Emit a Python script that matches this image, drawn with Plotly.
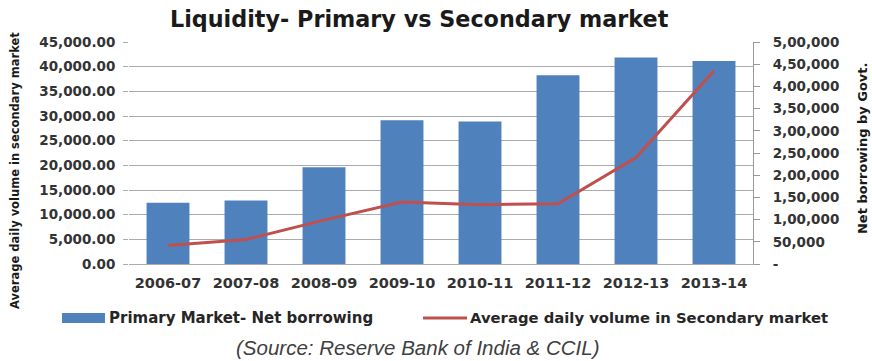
import plotly.graph_objects as go

# ---- data ----
categories = ["2006-07", "2007-08", "2008-09", "2009-10", "2010-11", "2011-12", "2012-13", "2013-14"]
net_borrowing = [138000, 143000, 218000, 324000, 321000, 425000, 465000, 457000]   # right axis (bars)
avg_daily_volume = [3760, 4980, 8900, 12560, 12030, 12230, 21580, 39170]          # left axis (line)

right_tickvals = [0, 50000, 100000, 150000, 200000, 250000, 300000, 350000, 400000, 450000, 500000]
right_ticktext = ["-", "50,000", "1,00,000", "1,50,000", "2,00,000", "2,50,000",
                  "3,00,000", "3,50,000", "4,00,000", "4,50,000", "5,00,000"]

bar_name = "Primary Market- Net borrowing"
line_name = "Average daily volume in Secondary market"
title_text = "Liquidity- Primary vs Secondary market"
left_title = "Average daily volume in secondary market"
right_title = "Net borrowing by Govt."
source_text = "(Source: Reserve Bank of India & CCIL)"

BAR_COLOR = "#4F81BD"
LINE_COLOR = "#C0504D"
GRID = "#ABABAB"
FONT = "DejaVu Sans"

fig = go.Figure()
fig.add_trace(go.Bar(x=categories, y=net_borrowing, name=bar_name,
                     marker=dict(color=BAR_COLOR, line=dict(width=0)),
                     yaxis="y", showlegend=False))
fig.add_trace(go.Scatter(x=categories, y=avg_daily_volume, name=line_name,
                         mode="lines", line=dict(color=LINE_COLOR, width=3),
                         yaxis="y2", showlegend=False))

xtickfont = dict(family=FONT, size=14.5, color="#333333", weight="bold")
ytickfont = dict(family=FONT, size=13.5, color="#333333", weight="bold")

fig.update_layout(
    width=872, height=361,
    margin=dict(l=129, r=119, t=42, b=97),
    paper_bgcolor="white", plot_bgcolor="white",
    bargap=0.45,
    title=dict(text=title_text, x=0.465, xref="paper", xanchor="center",
               y=1 - 19 / 361, yref="container", yanchor="middle",
               font=dict(family=FONT, size=22.3, color="#1a1a1a", weight="bold")),
    xaxis=dict(type="category", showgrid=False, showline=True, linecolor=GRID, linewidth=1,
               ticks="", tickfont=xtickfont, ticklabelstandoff=6),
    yaxis=dict(side="right", range=[0, 500000], tickvals=right_tickvals, ticktext=right_ticktext,
               showgrid=False, zeroline=False, showline=True, linecolor="#999999", linewidth=1,
               ticks="outside", ticklen=6, tickcolor="#999999", tickfont=ytickfont,
               ticklabelstandoff=10),
    yaxis2=dict(side="left", overlaying="y", range=[0, 45000], dtick=5000, tickformat=",.2f",
                showgrid=True, gridcolor=GRID, gridwidth=1, zeroline=False, showline=False,
                ticks="outside", ticklen=5, tickcolor=GRID, tickfont=ytickfont,
                ticklabelstandoff=5),
    showlegend=False,
)

# axis titles
fig.add_annotation(text=left_title, xref="paper", yref="paper", x=-0.1827, y=0.4234,
                   textangle=-90, showarrow=False, xanchor="center", yanchor="middle",
                   font=dict(family=FONT, size=11.5, color="#1a1a1a", weight="bold"))
fig.add_annotation(text=right_title, xref="paper", yref="paper", x=1.1747, y=0.5225,
                   textangle=-90, showarrow=False, xanchor="center", yanchor="middle",
                   font=dict(family=FONT, size=13, color="#1a1a1a", weight="bold"))

# legend (drawn manually to match the wide key swatches)
fig.add_shape(type="rect", xref="paper", yref="paper", x0=-0.1074, x1=-0.0385,
              y0=-0.2658, y1=-0.2207, fillcolor=BAR_COLOR, line=dict(width=0))
fig.add_annotation(text=bar_name, xref="paper", yref="paper", x=-0.0353, y=-0.2432,
                   xanchor="left", yanchor="middle", showarrow=False,
                   font=dict(family=FONT, size=15, color="#262626", weight="bold"))
fig.add_shape(type="line", xref="paper", yref="paper", x0=0.4712, x1=0.5417,
              y0=-0.2432, y1=-0.2432, line=dict(color=LINE_COLOR, width=3))
fig.add_annotation(text=line_name, xref="paper", yref="paper", x=0.5433, y=-0.2432,
                   xanchor="left", yanchor="middle", showarrow=False,
                   font=dict(family=FONT, size=14.8, color="#262626", weight="bold"))

# source note
fig.add_annotation(text=source_text, xref="paper", yref="paper", x=(417 - 129) / 624, y=-0.378,
                   xanchor="center", yanchor="middle", showarrow=False,
                   font=dict(family="Liberation Sans", size=20.5, color="#404040", style="italic"))

fig.write_html("out.html", config={"displayModeBar": False},
               post_script="document.body.style.margin='0px';")
